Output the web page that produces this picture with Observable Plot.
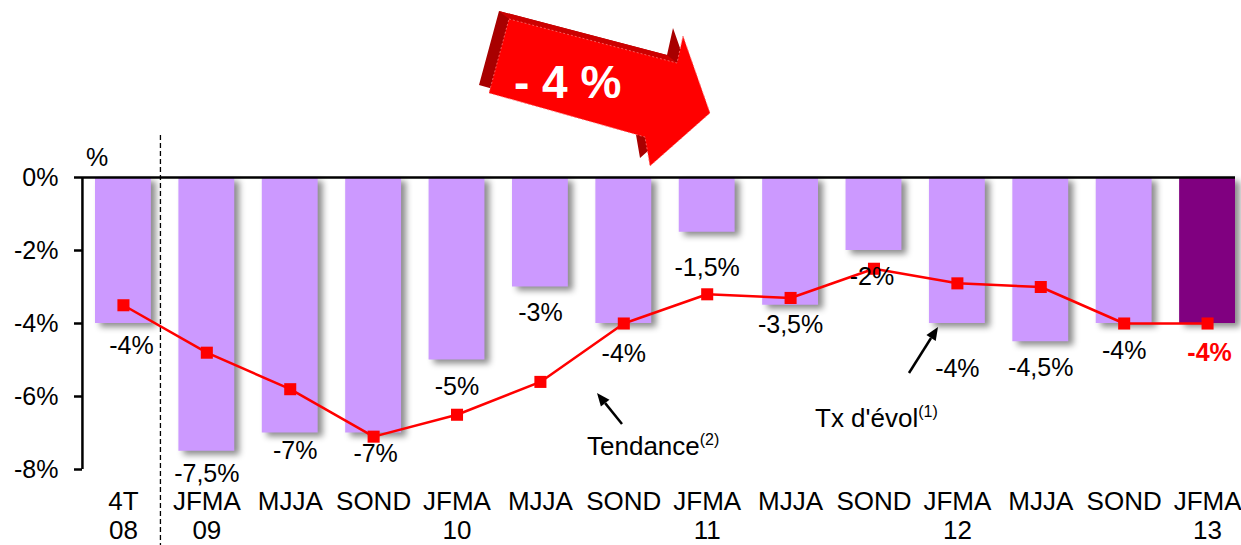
<!DOCTYPE html>
<html><head><meta charset="utf-8">
<script src="https://cdn.jsdelivr.net/npm/d3@7"></script>
<script src="https://cdn.jsdelivr.net/npm/@observablehq/plot@0.6"></script>
<style>body{margin:0;background:#fff;}</style>
</head><body><div id="chart"></div>
<script>
const categories = ["4T 08","JFMA 09","MJJA 09","SOND 09","JFMA 10","MJJA 10","SOND 10","JFMA 11","MJJA 11","SOND 11","JFMA 12","MJJA 12","SOND 12","JFMA 13"];
const tickLabels = ["4T\n08","JFMA\n09","MJJA","SOND","JFMA\n10","MJJA","SOND","JFMA\n11","MJJA","SOND","JFMA\n12","MJJA","SOND","JFMA\n13"];
const evolution = [-4,-7.5,-7,-7,-5,-3,-4,-1.5,-3.5,-2,-4,-4.5,-4,-4];
const tendance = [-3.5,-4.8,-5.8,-7.1,-6.5,-5.6,-4.0,-3.2,-3.3,-2.5,-2.9,-3.0,-4.0,-4.0];
const valueLabels = ["-4%","-7,5%","-7%","-7%","-5%","-3%","-4%","-1,5%","-3,5%","-2%","-4%","-4,5%","-4%","-4%"];
const yTicks = [0,-2,-4,-6,-8];

const data = categories.map((c,i)=>({cat:c, evol:evolution[i], tend:tendance[i], label:valueLabels[i], i}));
const labelDy = [22,23,18,21,27,26,30,36,20,26,45,26,27,29];
const labelDx = [8,0,5,2,0,0,0,0,0,-2,0,0,0,2];
const FONT = "'Liberation Sans', Arial, sans-serif";

const plot = Plot.plot({
  width:1241, height:545, marginLeft:82, marginRight:6, marginTop:177, marginBottom:76,
  style:{fontFamily:FONT, fontSize:"25px", color:"#000", background:"#fff", overflow:"visible"},
  x:{domain:categories, range:[95,1235], paddingInner:0.33, paddingOuter:0, align:0.5, round:false, axis:null},
  y:{domain:[-8,0], axis:null},
  marks:[
    Plot.barY(data,{x:"cat", y:"evol", fill:d=> d.i===13 ? "#800080" : "#CC99FF"}),
    Plot.ruleY([0],{stroke:"#000", strokeWidth:2.5}),
    Plot.ruleX([categories[0]],{dx:-41, y1:0, y2:-8, stroke:"#000", strokeWidth:2.5}),
    Plot.ruleX([categories[0]],{dx:37, y1:1.15, y2:-10.2, stroke:"#000", strokeWidth:1.3, strokeDasharray:"5,3"}),
    Plot.axisY({ticks:yTicks, tickSize:8, tickPadding:16, tickFormat:d=>d+"%", fontSize:25, strokeWidth:2.5, label:null}),
    Plot.axisX({tickSize:0, tickPadding:20, tickFormat:d=>tickLabels[categories.indexOf(d)], fontSize:26, lineHeight:1.12, label:null}),
    Plot.line(data,{x:"cat", y:"tend", stroke:"#FF0000", strokeWidth:2.5}),
    Plot.dot(data,{x:"cat", y:"tend", symbol:"square", r:6.8, fill:"#FF0000", stroke:"none"}),
    ...data.map(d=>Plot.text([d],{x:"cat", y:"evol", text:"label", dy:labelDy[d.i], dx:labelDx[d.i], fontSize:25,
      fill: d.i===13 ? "#FF0000" : "#000", fontWeight: d.i===13 ? "bold" : "normal"}))
  ]
});
document.getElementById("chart").appendChild(plot);

const svg = d3.select(plot);
svg.selectAll('g[aria-label="bar"]').style("filter","drop-shadow(5px 4px 3px rgba(0,0,0,0.45))");

const ov = svg.append("g").attr("font-family", FONT).attr("text-anchor","start");
// unit label
ov.append("text").attr("x",86).attr("y",166).attr("font-size",25).text("%");
// annotations
const t1 = ov.append("text").attr("x",587).attr("y",455).attr("font-size",26);
t1.append("tspan").text("Tendance");
t1.append("tspan").attr("font-size",16).attr("dy",-10).text("(2)");
const t2 = ov.append("text").attr("x",815).attr("y",427).attr("font-size",26);
t2.append("tspan").text("Tx d'évol");
t2.append("tspan").attr("font-size",16).attr("dy",-10).text("(1)");
function arrow(x1,y1,x2,y2){
  const a = Math.atan2(y2-y1,x2-x1), L=13, W=5.5;
  const bx = x2 - L*Math.cos(a), by = y2 - L*Math.sin(a);
  ov.append("line").attr("x1",x1).attr("y1",y1).attr("x2",bx).attr("y2",by).attr("stroke","#000").attr("stroke-width",2.5);
  ov.append("polygon").attr("fill","#000").attr("points",[
    [x2,y2],[bx - W*Math.sin(a), by + W*Math.cos(a)],[bx + W*Math.sin(a), by - W*Math.cos(a)]].map(p=>p.join(",")).join(" "));
}
arrow(622,424,597,393);
arrow(909,373,938,327);
// big red 3D arrow
const front = [[509,19],[677,63],[683,36],[710,113],[650,166],[645,137],[489,93]];
const back = front.map(([x,y])=>[x-10,y-8]);
const pts = a => a.map(p=>p.join(",")).join(" ");
ov.append("polygon").attr("points",pts(back)).attr("fill","#A80000");
ov.append("polygon").attr("points",pts([[499,11],[667,55],[677,63],[509,19]])).attr("fill","#CC0000");
ov.append("polygon").attr("points",pts(front)).attr("fill","#FF0000").attr("stroke","#FF7070").attr("stroke-width",0.8).attr("stroke-dasharray","2,2");
ov.append("text").attr("x",514).attr("y",98).attr("font-size",46).attr("font-weight","bold").attr("fill","#fff").text("- 4 %");
</script>
</body></html>
